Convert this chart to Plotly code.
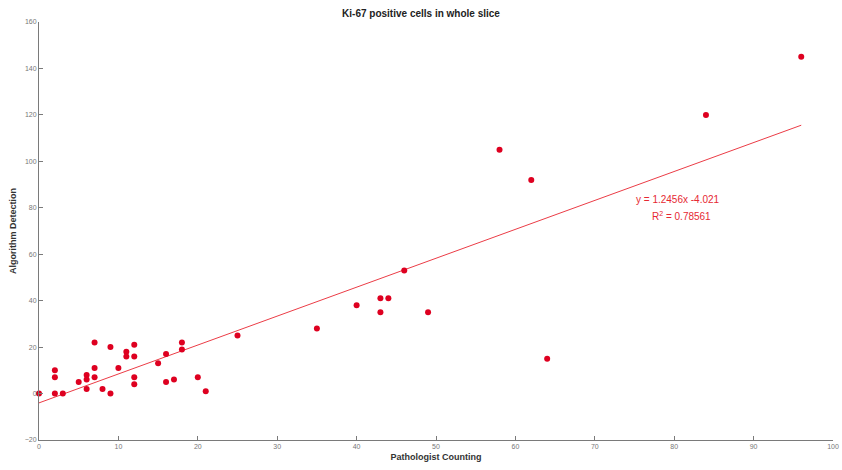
import plotly.graph_objects as go

# Pathologist counts vs algorithm detections per slice
pathologist = [0, 2, 2, 2, 3, 5, 6, 6, 6, 7, 7, 7, 8, 9, 9, 10, 11, 11, 12, 12, 12, 12,
               15, 16, 16, 17, 18, 18, 20, 21, 25, 35, 40, 43, 43, 44, 46, 49, 64,
               58, 62, 84, 96]
algorithm = [0, 10, 7, 0, 0, 5, 8, 6, 2, 22, 11, 7, 2, 20, 0, 11, 18, 16, 21, 16, 7, 4,
             13, 17, 5, 6, 22, 19, 7, 1, 25, 28, 38, 41, 35, 41, 53, 35, 15,
             105, 92, 120, 145]

# Linear fit reported on the chart
slope = 1.2456
intercept = -4.021
r_squared = 0.78561
fit_x = [0, 96]
fit_y = [slope * v + intercept for v in fit_x]

x_ticks = list(range(0, 101, 10))
y_ticks = list(range(-20, 161, 20))

RED = "rgb(222,0,32)"
FONT = "Liberation Sans, Arial, sans-serif"

fig = go.Figure()
fig.add_trace(go.Scatter(
    x=fit_x, y=fit_y, mode="lines",
    line=dict(color="rgb(235,60,70)", width=1),
    hoverinfo="skip", showlegend=False,
))
fig.add_trace(go.Scatter(
    x=pathologist, y=algorithm, mode="markers",
    marker=dict(color=RED, size=6, line=dict(width=0)),
    cliponaxis=False, showlegend=False,
))

ann_font = dict(family=FONT, size=10, color="rgb(230,40,50)")
fig.add_annotation(
    x=80.5, y=83.5, xref="x", yref="y",
    text=f"y = {slope}x {intercept}",
    showarrow=False, font=ann_font,
)
fig.add_annotation(
    x=80.9, y=76.3, xref="x", yref="y",
    text=f"R<sup>2</sup> = {r_squared}",
    showarrow=False, font=ann_font,
)

fig.update_layout(
    width=842, height=470,
    margin=dict(l=39, r=9, t=22, b=30, autoexpand=False),
    paper_bgcolor="white", plot_bgcolor="white",
    title=dict(text="<b>Ki-67 positive cells in whole slice</b>",
               x=0.5, xanchor="center", y=0.972, yanchor="middle",
               font=dict(family=FONT, size=10, color="#222")),
    font=dict(family=FONT),
)
axis_common = dict(
    showgrid=False, zeroline=False, showline=True, linecolor="#7a7a7a", linewidth=1,
    ticks="inside", ticklen=4, tickcolor="#7a7a7a",
    tickfont=dict(family=FONT, size=7, color="#777"),
    mirror=False, automargin=False,
)
fig.update_xaxes(range=[0, 100], tickvals=x_ticks,
                 title=dict(text="<b>Pathologist Counting</b>", standoff=4,
                            font=dict(family=FONT, size=9, color="#333")),
                 **axis_common)
fig.update_yaxes(range=[-20, 160], tickvals=y_ticks,
                 title=dict(text="<b>Algorithm Detection</b>", standoff=6,
                            font=dict(family=FONT, size=9, color="#333")),
                 **axis_common)

fig.write_html("out.html")
